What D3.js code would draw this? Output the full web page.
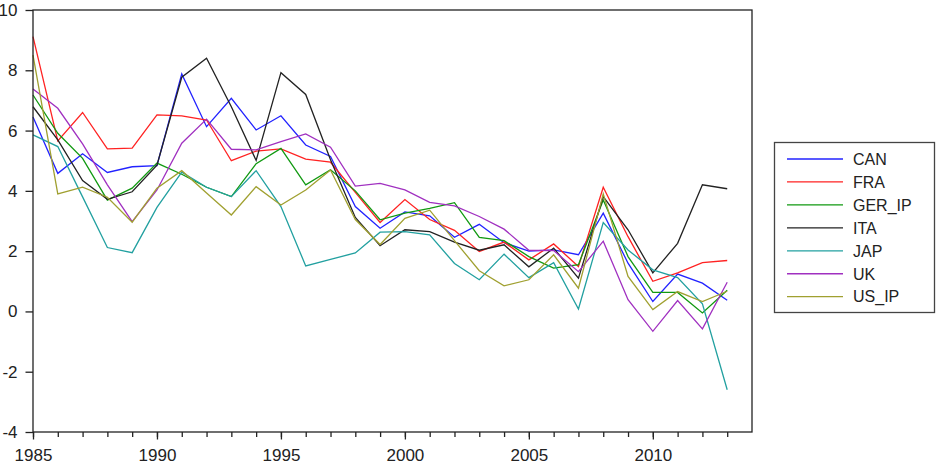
<!DOCTYPE html>
<html>
<head>
<meta charset="utf-8">
<script src="https://cdn.jsdelivr.net/npm/d3@7"></script>
<style>
  body { margin: 0; background: #fff; }
  svg { display: block; }
  text { font-family: "Liberation Sans", Arial, sans-serif; fill: #222; }
</style>
</head>
<body>
<div id="chart"></div>
<script>
var years = d3.range(1985, 2014);

var seriesNames = ["CAN", "FRA", "GER_IP", "ITA", "JAP", "UK", "US_IP"];
var seriesColors = ["#2222ff", "#ff2222", "#119911", "#222222", "#22a0a0", "#a030c0", "#a0a030"];

var CAN = [6.45, 4.58, 5.23, 4.61, 4.8, 4.84, 7.88, 6.13, 7.07, 6.02, 6.49, 5.52, 5.14, 3.48, 2.76, 3.3, 3.17, 2.46, 2.89, 2.28, 2.0, 2.04, 1.88, 3.26, 1.6, 0.33, 1.24, 0.94, 0.37];
var FRA = [9.12, 5.66, 6.6, 5.39, 5.42, 6.52, 6.49, 6.35, 5.0, 5.32, 5.39, 5.05, 4.95, 3.95, 2.95, 3.71, 3.05, 2.69, 1.99, 2.3, 1.71, 2.24, 1.49, 4.12, 2.48, 1.0, 1.28, 1.62, 1.69];
var GER_IP = [7.18, 5.91, 5.08, 3.69, 4.09, 4.92, 4.55, 4.12, 3.81, 4.9, 5.41, 4.2, 4.7, 4.0, 3.04, 3.26, 3.42, 3.61, 2.46, 2.35, 1.82, 1.44, 1.55, 3.7, 1.82, 0.63, 0.63, -0.05, 0.7];
var ITA = [6.79, 5.69, 4.34, 3.72, 3.97, 4.85, 7.77, 8.4, 6.79, 5.01, 7.92, 7.2, 5.03, 3.12, 2.18, 2.71, 2.65, 2.3, 2.03, 2.21, 1.48, 2.1, 1.1, 3.81, 2.71, 1.28, 2.26, 4.2, 4.07];
var JAP = [5.86, 5.47, 3.8, 2.12, 1.95, 3.45, 4.62, 4.12, 3.81, 4.67, 3.48, 1.51, 1.73, 1.94, 2.63, 2.65, 2.54, 1.59, 1.05, 1.9, 1.12, 1.62, 0.08, 2.95, 2.04, 1.38, 1.12, 0.25, -2.6];
var UK = [7.38, 6.74, 5.56, 4.2, 2.98, 4.03, 5.58, 6.38, 5.38, 5.36, 5.63, 5.89, 5.45, 4.16, 4.25, 4.03, 3.62, 3.5, 3.15, 2.73, 2.03, 2.02, 1.32, 2.33, 0.39, -0.66, 0.36, -0.58, 0.97];
var US_IP = [8.5, 3.9, 4.12, 3.79, 2.96, 4.09, 4.67, 3.93, 3.2, 4.14, 3.53, 4.03, 4.69, 3.05, 2.22, 3.09, 3.36, 2.35, 1.35, 0.85, 1.05, 1.88, 0.77, 3.9, 1.16, 0.06, 0.66, 0.33, 0.67];

var seriesValues = [CAN, FRA, GER_IP, ITA, JAP, UK, US_IP];

var xTickLabels = [1985, 1990, 1995, 2000, 2005, 2010];
var yTickLabels = [-4, -2, 0, 2, 4, 6, 8, 10];

var width = 948, height = 474;
var margin = { top: 10, right: 752, bottom: 432, left: 33 }; // plot edges in px

var svg = d3.select("#chart")
    .append("svg")
    .attr("width", width)
    .attr("height", height);

var x = d3.scaleLinear().domain([1985, 2014]).range([margin.left, margin.right]);
var y = d3.scaleLinear().domain([-4, 10]).range([margin.bottom, margin.top]);

// lines
var line = d3.line()
    .x(function(d, i) { return x(years[i]); })
    .y(function(d) { return y(d); });

seriesValues.forEach(function(vals, k) {
    svg.append("path")
        .datum(vals)
        .attr("fill", "none")
        .attr("stroke", seriesColors[k])
        .attr("stroke-width", 1.3)
        .attr("d", line);
});

// frame
svg.append("rect")
    .attr("x", margin.left)
    .attr("y", margin.top)
    .attr("width", margin.right - margin.left)
    .attr("height", margin.bottom - margin.top)
    .attr("fill", "none")
    .attr("stroke", "#222")
    .attr("stroke-width", 1.3);

// plain hyphen for negatives, like the original
var plain = function(d) { return String(d); };

// x axis: minor ticks every year, labels every 5
var xAxis = svg.append("g")
    .attr("transform", "translate(0," + margin.bottom + ")")
    .call(d3.axisBottom(x)
        .tickValues(years)
        .tickSize(5)
        .tickFormat(""));
xAxis.select(".domain").remove();

var xMajor = svg.append("g")
    .attr("transform", "translate(0," + margin.bottom + ")")
    .call(d3.axisBottom(x)
        .tickValues(xTickLabels)
        .tickSize(7.5)
        .tickPadding(9)
        .tickFormat(plain));
xMajor.select(".domain").remove();

var yAxis = svg.append("g")
    .attr("transform", "translate(" + margin.left + ",0)")
    .call(d3.axisLeft(y)
        .tickValues(yTickLabels)
        .tickSize(7.5)
        .tickPadding(8)
        .tickFormat(plain));
yAxis.select(".domain").remove();

svg.selectAll("g.tick line")
    .attr("stroke", "#222")
    .attr("stroke-width", 1.3);
svg.selectAll("g.tick text")
    .style("font-family", "'Liberation Sans', Arial, sans-serif")
    .style("font-size", "17px")
    .attr("fill", "#222");

// legend
var legend = svg.append("g");
legend.append("rect")
    .attr("x", 774.5)
    .attr("y", 142.5)
    .attr("width", 160)
    .attr("height", 170)
    .attr("fill", "#fff")
    .attr("stroke", "#444")
    .attr("stroke-width", 1.3);

var rows = legend.selectAll(".legend")
    .data(seriesNames)
    .enter().append("g")
    .attr("class", "legend")
    .attr("transform", function(d, i) { return "translate(0," + (159 + i * 22.95) + ")"; });

rows.append("line")
    .attr("x1", 787)
    .attr("x2", 843)
    .attr("stroke", function(d, i) { return seriesColors[i]; })
    .attr("stroke-width", 1.3);

rows.append("text")
    .attr("x", 853)
    .attr("dy", "0.36em")
    .style("font-size", "16px")
    .text(function(d) { return d; });
</script>
</body>
</html>
